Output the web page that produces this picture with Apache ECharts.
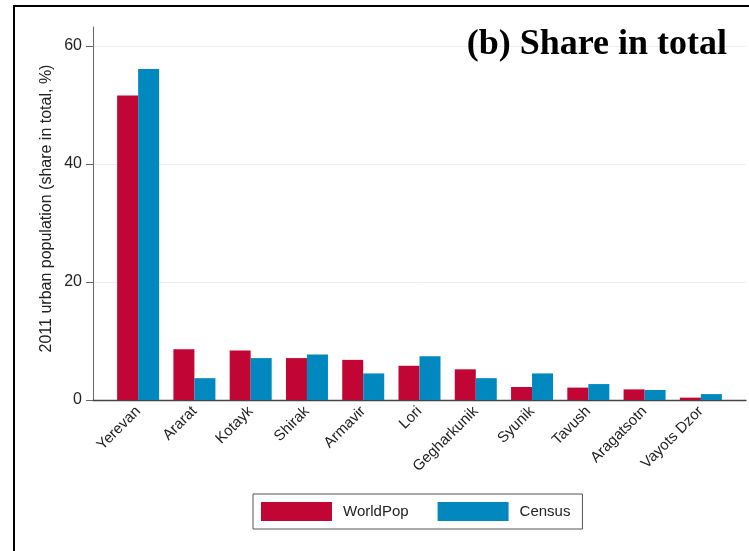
<!DOCTYPE html>
<html>
<head>
<meta charset="utf-8">
<script src="https://cdn.jsdelivr.net/npm/echarts@6/dist/echarts.min.js"></script>
<style>
  html, body { margin: 0; padding: 0; background: #fff; }
  #frame { position: absolute; left: 13px; top: 5px; width: 740px; height: 560px;
           border-left: 2px solid #000; border-top: 2px solid #000; }
  #chart { position: absolute; left: 0; top: 0; width: 749px; height: 551px; }
</style>
</head>
<body>
<div id="frame"></div>
<div id="chart"></div>
<script>
// Armenian marzer, ordered by WorldPop urban population share
const regions = ['Yerevan', 'Ararat', 'Kotayk', 'Shirak', 'Armavir', 'Lori',
                 'Gegharkunik', 'Syunik', 'Tavush', 'Aragatsotn', 'Vayots Dzor'];
// 2011 urban population, share in total (%)
const worldPop = [51.6, 8.6, 8.4, 7.1, 6.8, 5.8, 5.2, 2.2, 2.1, 1.8, 0.4];
const census   = [56.1, 3.7, 7.1, 7.7, 4.5, 7.4, 3.7, 4.5, 2.7, 1.7, 1.0];
const yTickMax = 60;   // last labelled tick
const yAxisTop = 63.2; // axis line runs a little past the last tick

const RED = '#c10534';
const BLUE = '#0088bf';

const chart = echarts.init(document.getElementById('chart'), null, { renderer: 'canvas' });

chart.setOption({
  animation: false,
  backgroundColor: 'transparent',
  title: {
    text: '(b) Share in total',
    right: 22, top: 27, padding: 0,
    textStyle: { fontFamily: 'Liberation Serif', fontWeight: 'bold', fontSize: 36, color: '#000' }
  },
  legend: {
    left: 253, top: 494,
    orient: 'horizontal',
    borderColor: '#555', borderWidth: 1,
    padding: [8, 12, 8, 8],
    itemWidth: 71, itemHeight: 19, itemGap: 29,
    icon: 'rect',
    textStyle: { fontFamily: 'Liberation Sans', fontSize: 15, color: '#222', padding: [0, 0, 0, 6] },
    data: ['WorldPop', 'Census']
  },
  grid: [
    // axis frame: full-length axis lines
    { left: 93, right: 3, top: 27, bottom: 151 },
    // bars: category bands
    { left: 110, right: 20, top: 27, bottom: 151 },
    // ticks, labels and gridlines up to the last tick
    { left: 93, right: 3, top: 46, bottom: 151 }
  ],
  xAxis: [
    {
      gridIndex: 0, type: 'value', min: 0, max: 1,
      axisLine: { show: true, lineStyle: { color: '#444', width: 1.3 } },
      axisTick: { show: false }, axisLabel: { show: false }, splitLine: { show: false }
    },
    {
      gridIndex: 1, type: 'category', data: regions,
      boundaryGap: true,
      axisLine: { show: false }, axisTick: { show: false },
      axisLabel: {
        interval: 0, rotate: 45, margin: 9,
        fontFamily: 'Liberation Sans', fontSize: 15, color: '#222'
      }
    },
    {
      gridIndex: 2, type: 'value', min: 0, max: 1, show: false
    }
  ],
  yAxis: [
    {
      gridIndex: 0, type: 'value', min: 0, max: yAxisTop,
      name: '2011 urban population (share in total, %)',
      nameLocation: 'middle', nameGap: 38,
      nameTextStyle: { fontFamily: 'Liberation Sans', fontSize: 16, color: '#222', padding: [0, 0, 0, 10] },
      axisLine: { show: true, lineStyle: { color: '#666', width: 1 } },
      axisTick: { show: false }, axisLabel: { show: false }, splitLine: { show: false }
    },
    {
      gridIndex: 1, type: 'value', min: 0, max: yAxisTop, show: false,
      splitLine: { show: false }
    },
    {
      gridIndex: 2, type: 'value', min: 0, max: yTickMax, interval: 20,
      axisLine: { show: false },
      axisTick: { show: true, length: 7, lineStyle: { color: '#666' } },
      axisLabel: { margin: 11, fontFamily: 'Liberation Sans', fontSize: 16, color: '#222' },
      splitLine: { show: true, lineStyle: { color: '#e8eff3', width: 1 } }
    }
  ],
  series: [
    {
      name: 'WorldPop', type: 'bar', xAxisIndex: 1, yAxisIndex: 1,
      data: worldPop, barWidth: 21, barGap: '0%',
      itemStyle: { color: RED }
    },
    {
      name: 'Census', type: 'bar', xAxisIndex: 1, yAxisIndex: 1,
      data: census, barWidth: 21, barGap: '0%',
      itemStyle: { color: BLUE }
    }
  ]
});
</script>
</body>
</html>
